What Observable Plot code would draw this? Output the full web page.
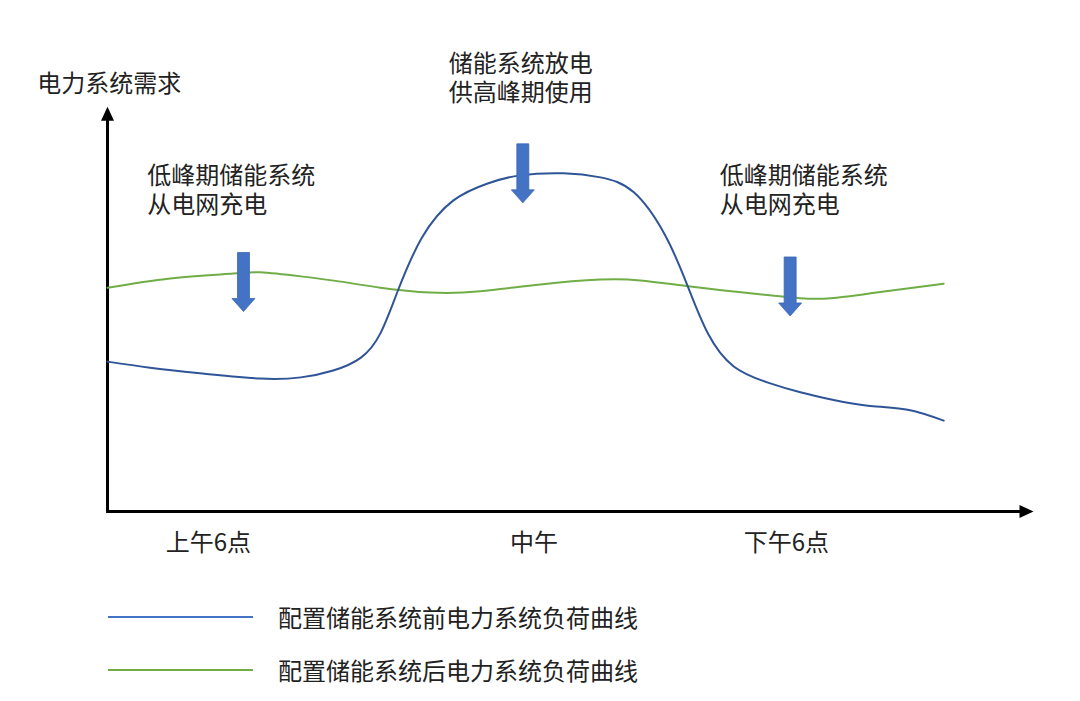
<!DOCTYPE html>
<html><head><meta charset="utf-8">
<script src="https://cdn.jsdelivr.net/npm/d3@7"></script>
<script src="https://cdn.jsdelivr.net/npm/@observablehq/plot@0.6"></script>
<style>
body{margin:0;background:#fff;font-family:"Noto Sans CJK SC","Noto Sans",sans-serif;}
#wrap{position:relative;width:1080px;height:701px;overflow:hidden;}
#legend{position:relative;width:1080px;height:111px;}
.row{position:absolute;left:0;width:1080px;height:30px;}
.swatch{position:absolute;left:108px;top:14px;width:145px;height:2px;}
.lab{position:absolute;left:278px;top:0;font-size:24px;line-height:30px;color:#222;white-space:nowrap;}
</style></head>
<body><div id="wrap"><div id="chart"></div><div id="legend"></div></div>
<script>
// Load curve before energy storage (blue)
const beforeX = [0, 4.6, 10.0, 16.5, 20.9, 24.4, 27.4, 29.5, 31.4, 34.0, 37.4, 41.1, 44.6, 49.3, 53.3, 56.9, 60.3, 62.7, 64.9, 67.7, 71.4, 74.9, 78.5, 82.2, 86.5, 90.4];
const beforeY = [37.1, 35.6, 34.2, 32.9, 33.2, 34.9, 38.1, 44.1, 54.7, 67.8, 77.0, 81.2, 83.2, 83.7, 82.7, 79.0, 68.3, 55.9, 44.1, 35.9, 31.9, 29.5, 27.6, 26.2, 25.2, 22.5];
// Load curve after energy storage (green)
const afterX = [0, 6.8, 13.6, 16.5, 20.9, 25.2, 29.5, 34.9, 40.3, 46.8, 53.3, 57.6, 63.0, 69.5, 74.9, 78.2, 82.5, 90.4];
const afterY = [55.4, 57.7, 58.9, 59.2, 58.2, 56.9, 55.4, 54.2, 54.5, 56.2, 57.4, 57.2, 55.7, 54.0, 52.8, 52.8, 54.0, 56.4];
// x tick labels
const tickPos = [10.9, 46.1, 73.4];
const tickLabels = ["上午6点", "中午", "下午6点"];
// annotations (one entry per text line)
const noteLines = ["低峰期储能系统", "从电网充电", "储能系统放电", "供高峰期使用", "低峰期储能系统", "从电网充电"];
const noteX = [4.3, 4.3, 36.9, 36.9, 66.2, 66.2];
const noteY = [82.9, 75.7, 110.7, 103.5, 82.9, 75.7];
// block arrows
const arrowX = [14.7, 44.9, 73.8];
const arrowY = [56.8, 83.7, 55.7];
// legend
const seriesNames = ["配置储能系统前电力系统负荷曲线", "配置储能系统后电力系统负荷曲线"];
const seriesColors = ["#2F5597", "#70AD47"];
const legendColors = ["#4472C4", "#70AD47"];
const yTitle = "电力系统需求";

const before = beforeX.map((x, i) => ({x, y: beforeY[i]}));
const after = afterX.map((x, i) => ({x, y: afterY[i]}));
const notes = noteLines.map((t, i) => ({t, x: noteX[i], y: noteY[i]}));
const arrows = arrowX.map((x, i) => ({x, y: arrowY[i]}));

const blockArrow = {
  draw(ctx, size) {
    const s = Math.sqrt(size / Math.PI) / 10;
    ctx.moveTo(-6 * s, -29.5 * s);
    ctx.lineTo(6 * s, -29.5 * s);
    ctx.lineTo(6 * s, 16.5 * s);
    ctx.lineTo(11.5 * s, 16.5 * s);
    ctx.lineTo(0, 29.5 * s);
    ctx.lineTo(-11.5 * s, 16.5 * s);
    ctx.lineTo(-6 * s, 16.5 * s);
    ctx.closePath();
  }
};
const triHead = {
  draw(ctx, size) {
    const s = Math.sqrt(size / Math.PI) / 10;
    ctx.moveTo(0, -7.5 * s);
    ctx.lineTo(6.5 * s, 6.5 * s);
    ctx.lineTo(-6.5 * s, 6.5 * s);
    ctx.closePath();
  }
};

const chart = Plot.plot({
  width: 1080,
  height: 590,
  marginLeft: 107,
  marginRight: 48,
  marginTop: 107,
  marginBottom: 79,
  x: {domain: [0, 100], axis: null},
  y: {domain: [0, 100], axis: null},
  style: {fontFamily: '"Noto Sans CJK SC","Noto Sans",sans-serif', background: "#fff", color: "#222"},
  marks: [
    Plot.ruleX([0], {y1: 0, y2: 98.3, stroke: "#000", strokeWidth: 3}),
    Plot.ruleY([0], {x1: -0.1, x2: 99.3, stroke: "#000", strokeWidth: 3}),
    Plot.dot([{x: 0, y: 98.3}], {x: "x", y: "y", symbol: triHead, r: 10, fill: "#000", stroke: "none"}),
    Plot.dot([{x: 99.3, y: 0}], {x: "x", y: "y", symbol: triHead, r: 10, fill: "#000", stroke: "none", rotate: 90}),
    Plot.axisX(tickPos, {tickSize: 0, tickPadding: 22, fontSize: 24, label: null, tickFormat: (d, i) => tickLabels[i], fill: "#222"}),
    Plot.line(after, {x: "x", y: "y", stroke: seriesColors[1], strokeWidth: 2, curve: "natural"}),
    Plot.line(before, {x: "x", y: "y", stroke: seriesColors[0], strokeWidth: 2, curve: "natural"}),
    Plot.dot(arrows, {x: "x", y: "y", symbol: blockArrow, r: 10, fill: "#4472C4", stroke: "#3B68B5", strokeWidth: 0.8}),
    Plot.text(notes, {x: "x", y: "y", text: "t", textAnchor: "start", lineAnchor: "middle", fontSize: 24, fill: "#222"}),
    Plot.text([yTitle], {x: -7.6, y: 105.7, text: d => d, textAnchor: "start", lineAnchor: "middle", fontSize: 24, fill: "#222"})
  ]
});
document.getElementById("chart").appendChild(chart);

const leg = document.getElementById("legend");
seriesNames.forEach((name, i) => {
  const row = document.createElement("div");
  row.className = "row";
  row.style.top = (12 + i * 53) + "px";
  const sw = document.createElement("div");
  sw.className = "swatch";
  sw.style.background = legendColors[i];
  const lab = document.createElement("div");
  lab.className = "lab";
  lab.textContent = name;
  row.appendChild(sw);
  row.appendChild(lab);
  leg.appendChild(row);
});
</script></body></html>
